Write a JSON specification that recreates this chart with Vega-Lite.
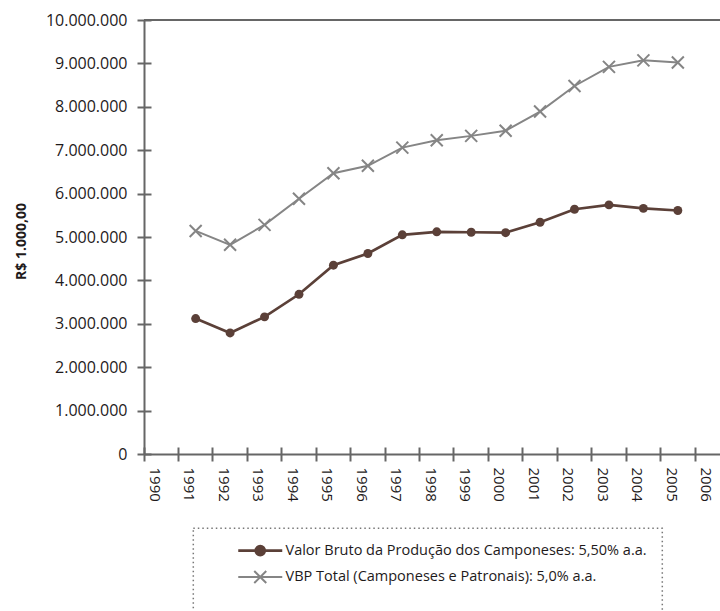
{
  "$schema": "https://vega.github.io/schema/vega-lite/v6.json",
  "autosize": {"type": "none"},
  "padding": {"left": 144, "top": 20, "right": 0, "bottom": 157},
  "width": 576,
  "height": 434,
  "background": "white",
  "config": {
    "font": "Open Sans",
    "view": {"stroke": null},
    "axis": {"domainColor": "#666666", "domainWidth": 2, "tickColor": "#666666", "tickWidth": 2, "grid": false, "labelColor": "#1e1a1b", "titleColor": "#1e1a1b"}
  },
  "data": {"values": [
    {"year": 1991, "serie": "Valor Bruto da Produção dos Camponeses: 5,50% a.a.", "valor": 3120000},
    {"year": 1992, "serie": "Valor Bruto da Produção dos Camponeses: 5,50% a.a.", "valor": 2790000},
    {"year": 1993, "serie": "Valor Bruto da Produção dos Camponeses: 5,50% a.a.", "valor": 3160000},
    {"year": 1994, "serie": "Valor Bruto da Produção dos Camponeses: 5,50% a.a.", "valor": 3680000},
    {"year": 1995, "serie": "Valor Bruto da Produção dos Camponeses: 5,50% a.a.", "valor": 4350000},
    {"year": 1996, "serie": "Valor Bruto da Produção dos Camponeses: 5,50% a.a.", "valor": 4620000},
    {"year": 1997, "serie": "Valor Bruto da Produção dos Camponeses: 5,50% a.a.", "valor": 5050000},
    {"year": 1998, "serie": "Valor Bruto da Produção dos Camponeses: 5,50% a.a.", "valor": 5120000},
    {"year": 1999, "serie": "Valor Bruto da Produção dos Camponeses: 5,50% a.a.", "valor": 5110000},
    {"year": 2000, "serie": "Valor Bruto da Produção dos Camponeses: 5,50% a.a.", "valor": 5100000},
    {"year": 2001, "serie": "Valor Bruto da Produção dos Camponeses: 5,50% a.a.", "valor": 5340000},
    {"year": 2002, "serie": "Valor Bruto da Produção dos Camponeses: 5,50% a.a.", "valor": 5640000},
    {"year": 2003, "serie": "Valor Bruto da Produção dos Camponeses: 5,50% a.a.", "valor": 5740000},
    {"year": 2004, "serie": "Valor Bruto da Produção dos Camponeses: 5,50% a.a.", "valor": 5660000},
    {"year": 2005, "serie": "Valor Bruto da Produção dos Camponeses: 5,50% a.a.", "valor": 5610000},
    {"year": 1991, "serie": "VBP Total (Camponeses e Patronais): 5,0% a.a.", "valor": 5140000},
    {"year": 1992, "serie": "VBP Total (Camponeses e Patronais): 5,0% a.a.", "valor": 4820000},
    {"year": 1993, "serie": "VBP Total (Camponeses e Patronais): 5,0% a.a.", "valor": 5280000},
    {"year": 1994, "serie": "VBP Total (Camponeses e Patronais): 5,0% a.a.", "valor": 5880000},
    {"year": 1995, "serie": "VBP Total (Camponeses e Patronais): 5,0% a.a.", "valor": 6470000},
    {"year": 1996, "serie": "VBP Total (Camponeses e Patronais): 5,0% a.a.", "valor": 6640000},
    {"year": 1997, "serie": "VBP Total (Camponeses e Patronais): 5,0% a.a.", "valor": 7060000},
    {"year": 1998, "serie": "VBP Total (Camponeses e Patronais): 5,0% a.a.", "valor": 7230000},
    {"year": 1999, "serie": "VBP Total (Camponeses e Patronais): 5,0% a.a.", "valor": 7330000},
    {"year": 2000, "serie": "VBP Total (Camponeses e Patronais): 5,0% a.a.", "valor": 7450000},
    {"year": 2001, "serie": "VBP Total (Camponeses e Patronais): 5,0% a.a.", "valor": 7890000},
    {"year": 2002, "serie": "VBP Total (Camponeses e Patronais): 5,0% a.a.", "valor": 8480000},
    {"year": 2003, "serie": "VBP Total (Camponeses e Patronais): 5,0% a.a.", "valor": 8920000},
    {"year": 2004, "serie": "VBP Total (Camponeses e Patronais): 5,0% a.a.", "valor": 9070000},
    {"year": 2005, "serie": "VBP Total (Camponeses e Patronais): 5,0% a.a.", "valor": 9020000}
  ]},
  "resolve": {"axis": {"x": "independent", "y": "independent"}},
  "layer": [
    {
      "data": {"values": [{"top": 10000000}]},
      "mark": {"type": "rule", "color": "#666666", "strokeWidth": 2},
      "encoding": {
        "y": {"field": "top", "type": "quantitative", "scale": {"domain": [0, 10000000], "nice": false}, "axis": null}
      }
    },
    {
      "mark": {"type": "line"},
      "encoding": {
        "x": {
          "field": "year", "type": "ordinal",
          "scale": {"type": "band", "domain": [1990, 1991, 1992, 1993, 1994, 1995, 1996, 1997, 1998, 1999, 2000, 2001, 2002, 2003, 2004, 2005, 2006], "range": [0, 585.5], "paddingInner": 0, "paddingOuter": 0},
          "axis": {"orient": "bottom", "title": null, "bandPosition": 0, "tickSize": 7, "labelAngle": 90, "labelAlign": "left", "labelBaseline": "middle", "labelOffset": -6.2, "labelPadding": 6, "labelFontSize": 15}
        },
        "y": {
          "field": "valor", "type": "quantitative",
          "scale": {"domain": [0, 10000000], "nice": false},
          "axis": {"orient": "left", "title": "R$ 1.000,00", "titleFontSize": 14, "titleFontWeight": "bold", "titleX": -119, "titleY": 221, "titleAngle": -90, "titleAlign": "center", "titleBaseline": "alphabetic", "values": [0, 1000000, 2000000, 3000000, 4000000, 5000000, 6000000, 7000000, 8000000, 9000000, 10000000], "labelExpr": "replace(replace(replace(format(datum.value, ','), ',', '.'), ',', '.'), ',', '.')", "tickSize": 7, "labelPadding": 10, "labelFontSize": 16}
        },
        "strokeWidth": {"field": "serie", "type": "nominal", "scale": {"domain": ["Valor Bruto da Produção dos Camponeses: 5,50% a.a.", "VBP Total (Camponeses e Patronais): 5,0% a.a."], "range": [2.7, 2]}, "legend": null},
        "color": {
          "field": "serie", "type": "nominal",
          "scale": {"domain": ["Valor Bruto da Produção dos Camponeses: 5,50% a.a.", "VBP Total (Camponeses e Patronais): 5,0% a.a."], "range": ["#5b4038", "#858585"]},
          "legend": {
            "orient": "none", "legendX": 49.3, "legendY": 508.3, "direction": "vertical",
            "title": "\u00a0", "titleOrient": "bottom", "titlePadding": 5, "titleFontSize": 14.5,
            "padding": 15, "rowPadding": 5.5, "symbolOffset": 44.7, "labelOffset": 18, "symbolSize": 100, "symbolStrokeWidth": 2, "symbolOpacity": 1,
            "labelFontSize": 14.5, "labelColor": "#1e1a1b", "labelLimit": 0,
            "labelExpr": "datum.label + '\u00a0\u00a0\u00a0\u00a0\u00a0\u00a0\u00a0\u00a0\u00a0\u00a0\u00a0\u00a0\u00a0\u00a0\u00a0'",
            "strokeColor": "#777777",
            "encode": {
              "legend": {
                "update": {
                  "strokeDash": {"value": [1.5, 3]},
                  "strokeWidth": {"value": 1.5}
                }
              },
              "symbols": {
                "update": {
                  "shape": {"signal": "datum.value === 'VBP Total (Camponeses e Patronais): 5,0% a.a.' ? 'M-4.4,0H4.4M-1.2,-1.2L1.2,1.2M-1.2,1.2L1.2,-1.2' : 'M-4.4,0H4.4M-0.9,0A0.9,0.9 0 1,0 0.9,0A0.9,0.9 0 1,0 -0.9,0Z'"},
                  "fill": {"signal": "datum.value === 'VBP Total (Camponeses e Patronais): 5,0% a.a.' ? 'transparent' : '#5b4038'"},
                  "size": {"value": 100},
                  "strokeWidth": {"value": 2.2}
                }
              }
            }
          }
        }
      }
    },
    {
      "transform": [{"filter": "datum.serie === 'Valor Bruto da Produção dos Camponeses: 5,50% a.a.'"}],
      "mark": {"type": "point", "shape": "circle", "filled": true, "size": 80, "color": "#5b4038", "opacity": 1},
      "encoding": {
        "x": {"field": "year", "type": "ordinal", "axis": {"orient": "bottom", "title": null, "bandPosition": 0, "tickSize": -7, "labels": false, "domain": false}},
        "y": {"field": "valor", "type": "quantitative", "axis": {"orient": "left", "title": null, "values": [0, 1000000, 2000000, 3000000, 4000000, 5000000, 6000000, 7000000, 8000000, 9000000, 10000000], "tickSize": -7, "labels": false, "domain": false}}
      }
    },
    {
      "transform": [{"filter": "datum.serie === 'VBP Total (Camponeses e Patronais): 5,0% a.a.'"}],
      "mark": {"type": "point", "shape": "M-1,-1L1,1M-1,1L1,-1", "filled": false, "size": 144, "stroke": "#858585", "strokeWidth": 2, "opacity": 1},
      "encoding": {
        "x": {"field": "year", "type": "ordinal", "axis": null},
        "y": {"field": "valor", "type": "quantitative", "axis": null}
      }
    }
  ]
}
